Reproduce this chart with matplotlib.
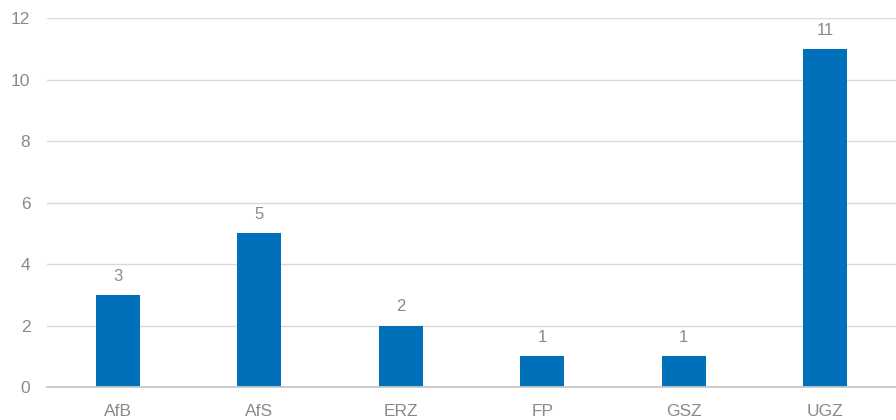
import matplotlib
matplotlib.use("Agg")
import matplotlib.pyplot as plt

categories = ["AfB", "AfS", "ERZ", "FP", "GSZ", "UGZ"]
values = [3, 5, 2, 1, 1, 11]
yticks = [0, 2, 4, 6, 8, 10, 12]

plt.rcParams['font.family'] = ['Liberation Sans', 'DejaVu Sans']
text_col = "#8a8a8a"

fig = plt.figure(figsize=(8.96, 4.2), dpi=100)
ax = fig.add_axes([0.0525, 0.0786, 0.9475, 0.8784])

x = range(len(categories))
bars = ax.bar(x, values, width=0.31, color="#0070BA", zorder=3)
for b, v in zip(bars, values):
    ax.annotate(str(v), (b.get_x() + b.get_width() / 2, v), xytext=(0, 8),
                textcoords="offset points", ha="center", va="bottom",
                fontsize=12, color=text_col)

ax.set_xlim(-0.5, len(categories) - 0.5)
ax.set_ylim(0, 12)
ax.set_yticks(yticks)
ax.set_xticks(list(x))
ax.set_xticklabels(categories)
ax.grid(axis="y", color="#d9d9d9", linewidth=1, zorder=0)
ax.tick_params(axis="both", length=0, labelsize=12.5, colors=text_col)
ax.tick_params(axis="y", pad=12)
ax.tick_params(axis="x", pad=12)
for s in ["top", "right", "left"]:
    ax.spines[s].set_visible(False)
ax.spines["bottom"].set_color("#c8c8c8")
ax.spines["bottom"].set_linewidth(1.3)
ax.spines["bottom"].set_zorder(4)

fig.savefig("out.png", dpi=100)
